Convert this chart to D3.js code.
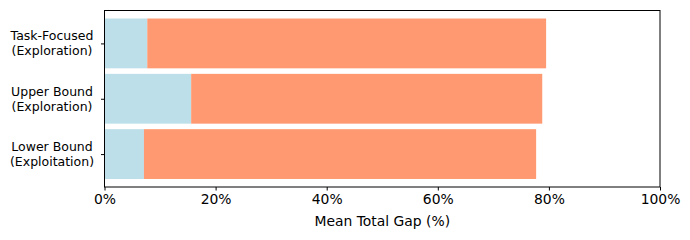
<!DOCTYPE html>
<html>
<head>
<meta charset="utf-8">
<script src="https://cdn.jsdelivr.net/npm/d3@7"></script>
<style>
  body { margin: 0; background: #fff; }
  svg text { font-family: "DejaVu Sans", sans-serif; fill: #000; }
</style>
</head>
<body>
<div class="chart"></div>
<script>
// categories, bottom to top as plotted
const categories = [["Lower Bound", "(Exploitation)"], ["Upper Bound", "(Exploration)"], ["Task-Focused", "(Exploration)"]];
const firstPart = [7.1, 15.6, 7.7];     // light blue segment
const secondPart = [70.6, 63.2, 71.8];  // salmon segment stacked after it
const xTicks = [0, 20, 40, 60, 80, 100];

const colors = ["#bcdfea", "#ff9971"];

const margin = {top: 10.5, right: 30, bottom: 53, left: 104.5},
    width = 690 - margin.left - margin.right,
    height = 240 - margin.top - margin.bottom;

const svg = d3.select(".chart")
  .append("svg")
    .attr("width", 690)
    .attr("height", 240)
  .append("g")
    .attr("transform", `translate(${margin.left},${margin.top})`);

const rows = categories.map((c, i) => ({i: i, a: firstPart[i], b: secondPart[i]}));
const stacked = d3.stack().keys(["a", "b"])(rows);

const x = d3.scaleLinear().domain([0, 100]).range([0, width]);
// matplotlib-style y limits for bars of height 0.9
const y = d3.scaleLinear().domain([-0.595, 2.595]).range([height, 0]);
const barH = y(0) - y(0.9);

svg.selectAll(".layer")
  .data(stacked)
  .join("g")
    .attr("fill", (d, i) => colors[i])
  .selectAll("rect")
  .data(d => d)
  .join("rect")
    .attr("x", d => x(d[0]))
    .attr("width", d => x(d[1]) - x(d[0]))
    .attr("y", d => y(d.data.i + 0.45))
    .attr("height", barH);

// frame
svg.append("rect")
  .attr("width", width)
  .attr("height", height)
  .attr("fill", "none")
  .attr("stroke", "#000")
  .attr("stroke-width", 1);

// x axis
const xAxis = svg.append("g")
  .attr("transform", `translate(0,${height})`)
  .call(d3.axisBottom(x).tickValues(xTicks).tickFormat(d => d + "%").tickSize(3.5).tickPadding(3.5));
xAxis.select(".domain").remove();
xAxis.selectAll("line").attr("stroke", "#000");
xAxis.selectAll("text").attr("font-size", 13.9).style("font-family", "DejaVu Sans");

// y axis
const yAxis = svg.append("g")
  .call(d3.axisLeft(y).tickValues([0, 1, 2]).tickFormat("").tickSize(3.5));
yAxis.select(".domain").remove();
yAxis.selectAll("line").attr("stroke", "#000");

categories.forEach((c, i) => {
  const t = svg.append("text")
    .attr("text-anchor", "middle")
    .attr("font-size", 12.5)
    .attr("transform", `translate(${-52.5},${y(i)})`);
  t.append("tspan").attr("x", 0).attr("dy", "-0.24em").text(c[0]);
  t.append("tspan").attr("x", 0).attr("dy", "1.2em").text(c[1]);
});

svg.append("text")
  .attr("x", width / 2)
  .attr("y", height + 39)
  .attr("text-anchor", "middle")
  .attr("font-size", 13.9)
  .text("Mean Total Gap (%)");
</script>
</body>
</html>
